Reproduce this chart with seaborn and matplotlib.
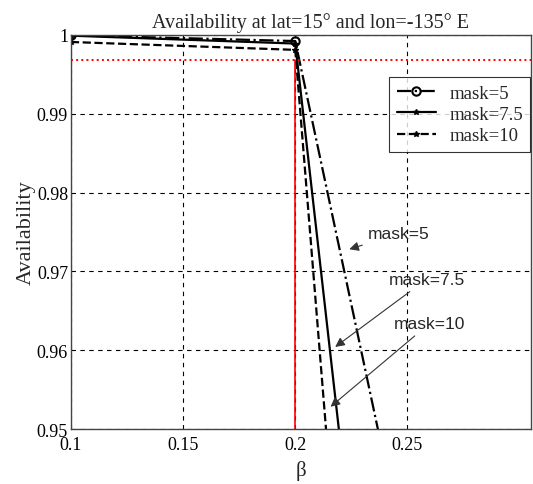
import numpy as np
import pandas as pd
import seaborn as sns
from matplotlib import pyplot as plt

# data
beta = [0.1, 0.2, 0.3]
avail_mask5 = [0.99995, 0.99922, 0.8655]
avail_mask75 = [0.99990, 0.99890, 0.7470]
avail_mask10 = [0.99910, 0.99810, 0.6470]
threshold = 0.9968
beta_limit = 0.2

x_ticks = [0.1, 0.15, 0.2, 0.25]
y_ticks = [0.95, 0.96, 0.97, 0.98, 0.99, 1.0]
y_ticklabels = ['0.95', '0.96', '0.97', '0.98', '0.99', '1']

df = pd.DataFrame({
    'beta': beta * 3,
    'avail': avail_mask5 + avail_mask75 + avail_mask10,
    'mask': ['mask=5'] * 3 + ['mask=7.5'] * 3 + ['mask=10'] * 3,
})

sns.set_style('white')
plt.rcParams['font.family'] = ['Liberation Serif', 'DejaVu Serif']

fig = plt.figure(figsize=(5.33, 4.85), dpi=100)
ax = fig.add_axes([0.133, 0.1134, 0.863, 0.8126])

styles = {
    'mask=5': dict(ls='-.', marker='o', ms=6, mfc='none', mew=1.5),
    'mask=7.5': dict(ls='-', marker='*', ms=4),
    'mask=10': dict(ls='--', marker='*', ms=4),
}
for name, st in styles.items():
    sub = df[df['mask'] == name]
    sns.lineplot(data=sub, x='beta', y='avail', ax=ax, color='black', lw=1.6,
                 label=name, linestyle=st['ls'], marker=st['marker'],
                 markersize=st['ms'], markerfacecolor=st.get('mfc', 'black'),
                 markeredgecolor='black', markeredgewidth=st.get('mew', 1))

# red reference lines
ax.axhline(threshold, color='red', ls=':', lw=1.4)
ax.plot([beta_limit, beta_limit], [0.95, threshold], color='red', lw=1.2)

ax.set_xlim(0.1, 0.305)
ax.set_ylim(0.95, 1.0)
ax.set_xticks(x_ticks)
ax.set_xticklabels(['0.1', '0.15', '0.2', '0.25'])
ax.set_yticks(y_ticks)
ax.set_yticklabels(y_ticklabels)
ax.tick_params(direction='in', length=5, labelsize=13, colors='black', pad=2)
ax.tick_params(axis='x', pad=5)
ax.grid(True, color='black', ls=(0, (4, 4)), lw=0.8)
for s in ax.spines.values():
    s.set_color('#444444')
    s.set_linewidth(1.0)

ax.set_title('Availability at lat=15° and lon=-135° E', fontsize=14.5, pad=6, x=0.52)
ax.set_xlabel('β', fontsize=15, labelpad=5)
ax.set_ylabel('Availability', fontsize=16, labelpad=1)

leg = ax.legend(loc='upper left', bbox_to_anchor=(0.692, 0.893), fontsize=13.5,
                frameon=True, fancybox=False, edgecolor='black',
                handlelength=2.1, borderpad=0.4, labelspacing=0.22,
                borderaxespad=0, handletextpad=0.7)
leg.get_frame().set_linewidth(0.8)

# annotations
arrow = dict(arrowstyle='-|>', color='#333333', lw=0.8, mutation_scale=14)
ax.annotate('mask=5', xy=(0.2229, 0.9727), xytext=(0.2325, 0.9748),
            family='Liberation Sans', fontsize=12.5, arrowprops=arrow,
            va='center', ha='left')
ax.annotate('mask=7.5', xy=(0.2168, 0.9602), xytext=(0.2415, 0.9690),
            family='Liberation Sans', fontsize=12.5, arrowprops=arrow,
            va='center', ha='left')
ax.annotate('mask=10', xy=(0.2148, 0.9526), xytext=(0.2440, 0.9634),
            family='Liberation Sans', fontsize=12.5, arrowprops=arrow,
            va='center', ha='left')

fig.savefig('out.png', dpi=100)
